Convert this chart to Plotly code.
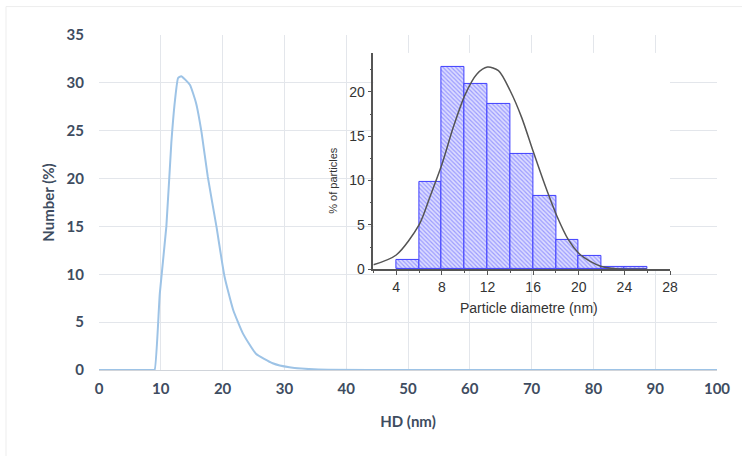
import plotly.graph_objects as go

# Main DLS curve: hydrodynamic diameter (nm) vs number (%)
hd_nm = [0, 8.7, 9.0, 9.84, 10.9, 11.7, 12.3, 12.8, 13.3, 14.7, 15.7, 16.6, 17.6,
         19.0, 20.3, 21.7, 23.3, 25.4, 28.1, 30.8, 35.5, 45, 60, 80, 100]
number_pct = [0, 0, 0, 8.0, 15.0, 23.7, 28.2, 30.5, 30.7, 29.8, 27.9, 24.8, 20.2,
              15.0, 9.8, 6.3, 3.8, 1.7, 0.7, 0.28, 0.05, 0.01, 0, 0, 0]

# Inset histogram (TEM particle diameters)
bin_centers = [5, 7, 9, 11, 13, 15, 17, 19, 21, 23, 25]
pct_particles = [1.05, 9.8, 22.8, 20.85, 18.6, 13.0, 8.3, 3.3, 1.55, 0.2, 0.2]

# Fitted curve
fit_x = [2, 4, 6, 6.97, 8, 9.0, 10.04, 11.06, 12, 12.96, 14, 15.0, 16.0, 17.06,
         18.08, 19.1, 20, 21, 22, 23.05, 24.2, 26]
fit_y = [0.49, 1.6, 5.0, 8.2, 11.8, 16.0, 19.7, 22.0, 22.8, 22.4, 20.1, 17.1, 13.3, 9.4,
         6.0, 3.3, 1.8, 0.87, 0.3, 0.08, 0, 0]

main_ticks_x = [0, 10, 20, 30, 40, 50, 60, 70, 80, 90, 100]
main_ticks_y = [0, 5, 10, 15, 20, 25, 30, 35]
inset_ticks_x = [4, 8, 12, 16, 20, 24, 28]
inset_ticks_y = [0, 5, 10, 15, 20]

TXT = "#3E4C60"
GRID = "#E3E6EB"

fig = go.Figure()

fig.add_trace(go.Scatter(
    x=hd_nm, y=number_pct, mode="lines",
    line=dict(color="#9DC3E6", width=2, shape="spline", smoothing=0.45),
    xaxis="x", yaxis="y", showlegend=False, hoverinfo="skip"))

fig.add_trace(go.Bar(
    x=bin_centers, y=pct_particles, width=2,
    marker=dict(color="#C9C9FF",
                line=dict(color="#3F3FFF", width=1),
                pattern=dict(shape="\\", fgcolor="#5A5AFF", bgcolor="#DCDCFF",
                             size=3, solidity=0.4)),
    xaxis="x2", yaxis="y2", showlegend=False, hoverinfo="skip"))

fig.add_trace(go.Scatter(
    x=fit_x, y=fit_y, mode="lines",
    line=dict(color="#555555", width=1.5, shape="spline", smoothing=0.8),
    xaxis="x2", yaxis="y2", showlegend=False, hoverinfo="skip"))

fig.update_layout(
    width=742, height=456,
    margin=dict(l=99, r=25, t=35, b=86),
    paper_bgcolor="white", plot_bgcolor="white",
    bargap=0,
    xaxis=dict(domain=[0, 1], range=[0, 100], tickvals=main_ticks_x,
               showgrid=True, gridcolor=GRID, gridwidth=1,
               zeroline=False, showline=True, linecolor="#D0D4DA", linewidth=1,
               mirror=False, ticks="", ticklabelstandoff=5,
               tickfont=dict(family="Lato", size=15, color=TXT, weight="bold"),
               title=dict(text="HD (nm)", standoff=20,
                          font=dict(family="Lato", size=15, color=TXT, weight="bold"))),
    yaxis=dict(domain=[0, 1], range=[0, 35], tickvals=main_ticks_y,
               showgrid=True, gridcolor=GRID, gridwidth=1,
               zeroline=False, showline=False, ticks="", ticklabelstandoff=14,
               tickfont=dict(family="Lato", size=15, color=TXT, weight="bold"),
               title=dict(text="Number (%)", standoff=8,
                          font=dict(family="Lato", size=15, color=TXT, weight="bold"))),
    xaxis2=dict(domain=[0.444, 0.924], range=[2, 28], anchor="y2",
                tickvals=inset_ticks_x, showgrid=False, zeroline=False,
                showline=True, linecolor="#555555", linewidth=1.5,
                ticks="outside", ticklen=4, tickcolor="#555555",
                minor=dict(ticks="outside", ticklen=2, dtick=2, tickcolor="#555555"),
                tickfont=dict(family="Liberation Sans", size=14, color="#333333")),
    yaxis2=dict(domain=[0.301, 0.9465], range=[0, 24.4], anchor="x2",
                tickvals=inset_ticks_y, showgrid=False, zeroline=False,
                showline=True, linecolor="#555555", linewidth=1.5,
                ticks="outside", ticklen=4, tickcolor="#555555",
                minor=dict(ticks="outside", ticklen=2, dtick=2.5, tickcolor="#555555"),
                tickfont=dict(family="Liberation Sans", size=14, color="#333333")),
    annotations=[
        dict(text="Particle diametre (nm)", xref="paper", yref="paper",
             x=(529 - 99) / 618, y=(370 - 308) / 334.6, showarrow=False,
             xanchor="center", yanchor="middle",
             font=dict(family="Liberation Sans", size=14, color="#333333")),
        dict(text="% of particles", xref="paper", yref="paper",
             x=(333 - 99) / 618, y=(370 - 181) / 334.6, showarrow=False,
             textangle=-90, xanchor="center", yanchor="middle",
             font=dict(family="Liberation Sans", size=11, color="#333333")),
    ],
    shapes=[
        dict(type="rect", xref="paper", yref="paper",
             x0=-93 / 618, x1=(760 - 99) / 618,
             y0=(370 - 480) / 334.6, y1=(370 - 7) / 334.6,
             line=dict(color="#EDEDED", width=1), layer="below"),
    ],
)

fig.write_html("out.html")
